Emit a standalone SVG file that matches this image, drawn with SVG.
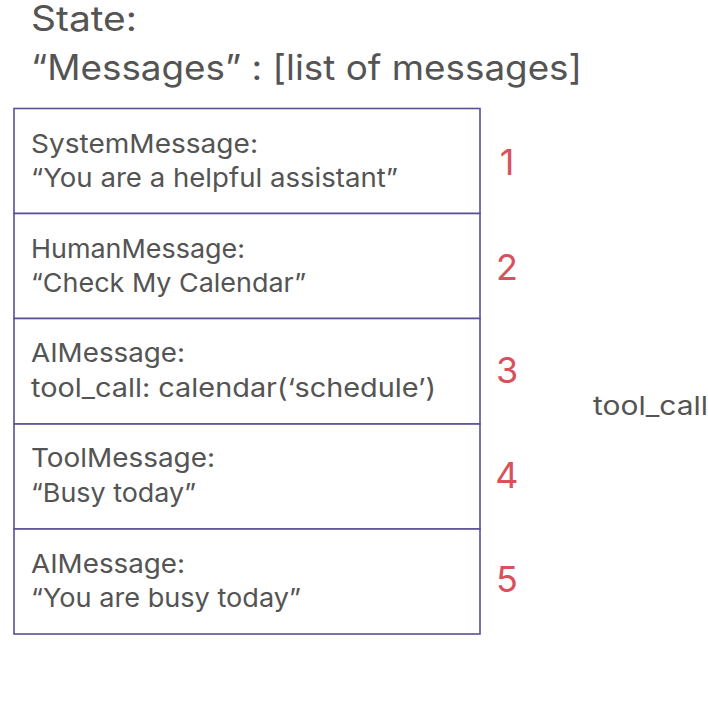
<svg xmlns="http://www.w3.org/2000/svg" width="708" height="707" viewBox="0 0 708 707">
<style>
text{font-family:"Inter","Noto Sans","Liberation Sans",sans-serif;fill:#545454;}
.title{font-size:35px;}
.msg{font-size:26px;}
.num{font-size:36px;fill:#d8525c;}
.row{fill:#ffffff;stroke:#5a5193;stroke-width:1.6;}
</style>
<rect width="708" height="707" fill="#ffffff"/>
<g id="title">
<text class="title" x="31" y="31" textLength="106" lengthAdjust="spacingAndGlyphs">State:</text>
<text class="title" x="31" y="80" textLength="551" lengthAdjust="spacingAndGlyphs">“Messages” : [list of messages]</text>
</g>
<g id="msg1">
<rect class="row" x="14" y="108.5" width="466" height="105"/>
<text class="msg" x="31" y="153" textLength="227" lengthAdjust="spacingAndGlyphs">SystemMessage:</text>
<text class="msg" x="31" y="187" textLength="367" lengthAdjust="spacingAndGlyphs">“You are a helpful assistant”</text>
<text class="num" x="507" y="175" text-anchor="middle">1</text>
</g>
<g id="msg2">
<rect class="row" x="14" y="213.5" width="466" height="105"/>
<text class="msg" x="31" y="258" textLength="214" lengthAdjust="spacingAndGlyphs">HumanMessage:</text>
<text class="msg" x="31" y="292" textLength="275" lengthAdjust="spacingAndGlyphs">“Check My Calendar”</text>
<text class="num" x="507" y="280" text-anchor="middle">2</text>
</g>
<g id="msg3">
<rect class="row" x="14" y="318.5" width="466" height="105.5"/>
<text class="msg" x="31" y="362" textLength="154" lengthAdjust="spacingAndGlyphs">AIMessage:</text>
<text class="msg" x="31" y="397" textLength="405" lengthAdjust="spacingAndGlyphs">tool_call: calendar(‘schedule’)</text>
<text class="num" x="507" y="383" text-anchor="middle">3</text>
</g>
<g id="msg4">
<rect class="row" x="14" y="424" width="466" height="105"/>
<text class="msg" x="31" y="467" textLength="184" lengthAdjust="spacingAndGlyphs">ToolMessage:</text>
<text class="msg" x="31" y="502" textLength="165" lengthAdjust="spacingAndGlyphs">“Busy today”</text>
<text class="num" x="507" y="488" text-anchor="middle">4</text>
</g>
<g id="msg5">
<rect class="row" x="14" y="529" width="466" height="105"/>
<text class="msg" x="31" y="573" textLength="154" lengthAdjust="spacingAndGlyphs">AIMessage:</text>
<text class="msg" x="31" y="607" textLength="270" lengthAdjust="spacingAndGlyphs">“You are busy today”</text>
<text class="num" x="507" y="592" text-anchor="middle">5</text>
</g>
<g id="connectors"></g>
<g id="side-label">
<text class="msg" x="593" y="415" textLength="115" lengthAdjust="spacingAndGlyphs">tool_call</text>
</g>
</svg>
